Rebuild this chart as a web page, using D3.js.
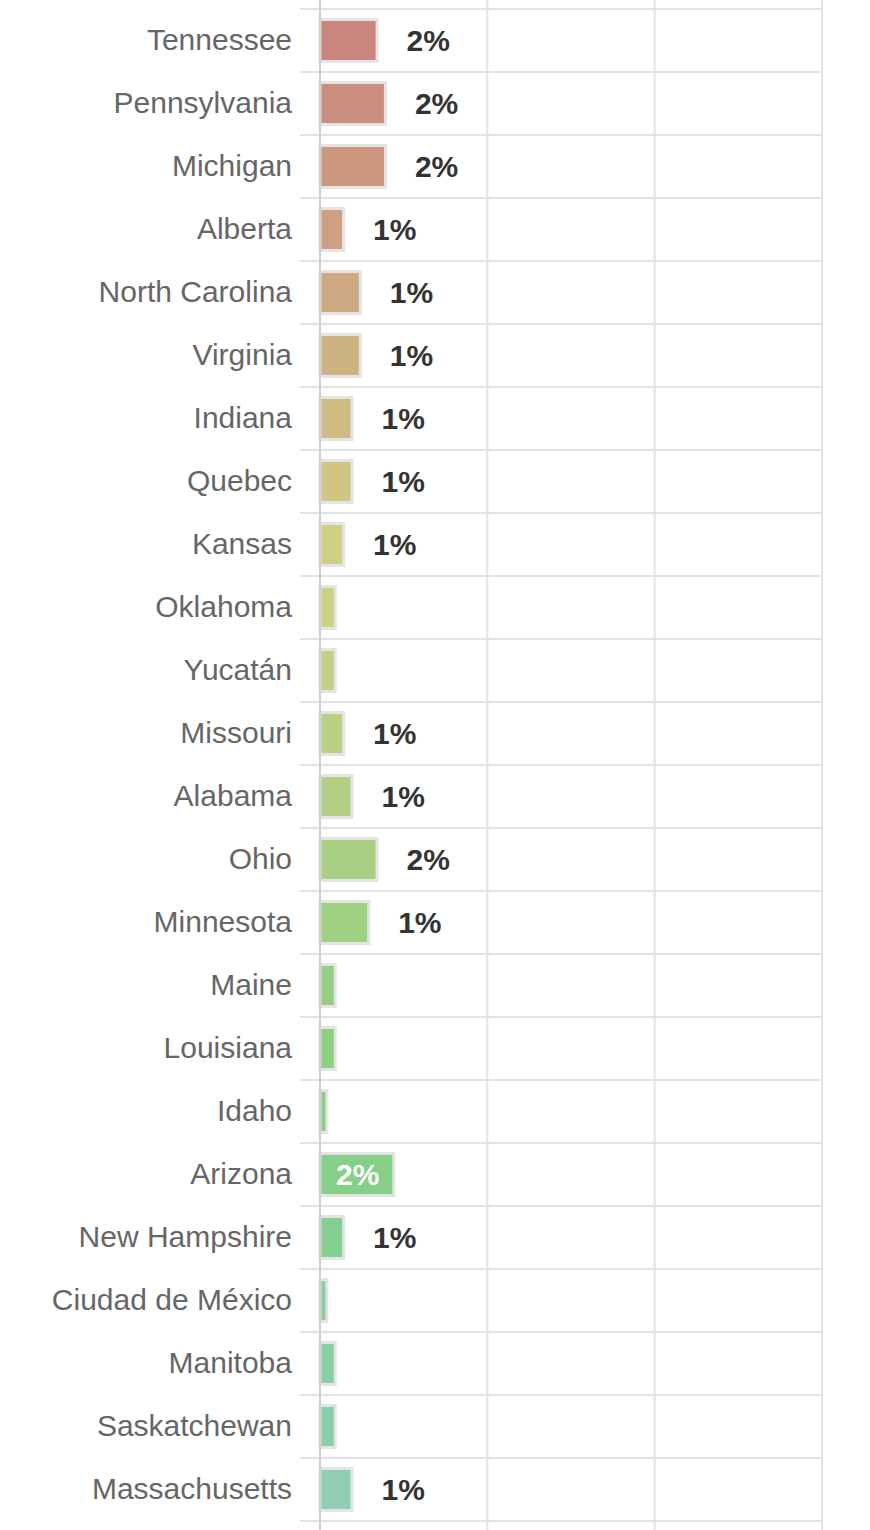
<!DOCTYPE html>
<html>
<head>
<meta charset="utf-8">
<script src="https://cdn.jsdelivr.net/npm/d3@7"></script>
<style>
  html, body { margin: 0; padding: 0; background: #fff; }
  svg { display: block; }
</style>
</head>
<body>
<svg id="chart" width="870" height="1530"></svg>
<script>
const categories = [
  "Tennessee", "Pennsylvania", "Michigan", "Alberta", "North Carolina", "Virginia",
  "Indiana", "Quebec", "Kansas", "Oklahoma", "Yucatán", "Missouri", "Alabama",
  "Ohio", "Minnesota", "Maine", "Louisiana", "Idaho", "Arizona", "New Hampshire",
  "Ciudad de México", "Manitoba", "Saskatchewan", "Massachusetts"
];
// share of responses, in percent
const values = [
  1.75, 2.0, 2.0, 0.75, 1.25, 1.25,
  1.0, 1.0, 0.75, 0.5, 0.5, 0.75, 1.0,
  1.75, 1.5, 0.5, 0.5, 0.25, 2.25, 0.75,
  0.25, 0.5, 0.5, 1.0
];
const valueLabels = [
  "2%", "2%", "2%", "1%", "1%", "1%",
  "1%", "1%", "1%", "", "", "1%", "1%",
  "2%", "1%", "", "", "", "2%", "1%",
  "", "", "", "1%"
];
const xTicks = [0, 5, 10, 15];

const W = 870, H = 1530;
const svg = d3.select("#chart");
const font = "'Liberation Sans', Arial, Helvetica, sans-serif";

const x = d3.scaleLinear().domain([0, 15]).range([320, 822]);
const y = d3.scaleBand().domain(categories).range([9, 1521])
  .paddingInner(1/3).paddingOuter(1/6);

const color = d3.scaleLinear()
  .domain([0, 8, 16, 23])
  .range(["hsl(6,41%,64%)", "hsl(58,45%,67%)", "hsl(110,45%,66%)", "hsl(157,40%,68%)"])
  .interpolate(d3.interpolateHsl);

const gap = (y.step() - y.bandwidth()) / 2;

// horizontal row separators
const seps = categories.map(c => y(c) - gap).concat([y(categories[categories.length - 1]) + y.bandwidth() + gap]);
svg.append("g").selectAll("line").data(seps).join("line")
  .attr("x1", 300).attr("x2", x(15))
  .attr("y1", d => d).attr("y2", d => d)
  .attr("stroke", "#e3e3e3").attr("stroke-width", 2);

// vertical grid lines
svg.append("g").selectAll("line").data(xTicks.filter(t => t > 0)).join("line")
  .attr("x1", d => x(d)).attr("x2", d => x(d))
  .attr("y1", 0).attr("y2", H)
  .attr("stroke", "#e3e3e3").attr("stroke-width", 2);

// bars
svg.append("g").selectAll("rect").data(categories).join("rect")
  .attr("x", x(0))
  .attr("y", d => y(d))
  .attr("width", (d, i) => x(values[i]) - x(0) - 1.5)
  .attr("height", y.bandwidth())
  .attr("fill", (d, i) => color(i))
  .attr("stroke", "#e4e4e4")
  .attr("stroke-width", 3);

// category labels
svg.append("g").selectAll("text").data(categories).join("text")
  .attr("x", 292)
  .attr("y", d => y(d) + y.bandwidth() / 2)
  .attr("dy", "0.33em")
  .attr("text-anchor", "end")
  .attr("font-family", font)
  .attr("font-size", 30)
  .attr("fill", "#666")
  .text(d => d);

// value labels
const inside = i => (x(values[i]) - x(0)) > 70;
svg.append("g").selectAll("text").data(categories).join("text")
  .attr("x", (d, i) => inside(i) ? (x(0) + x(values[i])) / 2 : x(values[i]) + 28)
  .attr("y", d => y(d) + y.bandwidth() / 2)
  .attr("dy", "0.35em")
  .attr("text-anchor", (d, i) => inside(i) ? "middle" : "start")
  .attr("font-family", font)
  .attr("font-weight", "bold")
  .attr("font-size", 30)
  .attr("fill", (d, i) => inside(i) ? "#fff" : "#333")
  .text((d, i) => valueLabels[i]);

// zero axis line
svg.append("line")
  .attr("x1", x(0)).attr("x2", x(0))
  .attr("y1", 0).attr("y2", H)
  .attr("stroke", "#cfcfcf").attr("stroke-width", 2);
</script>
</body>
</html>
